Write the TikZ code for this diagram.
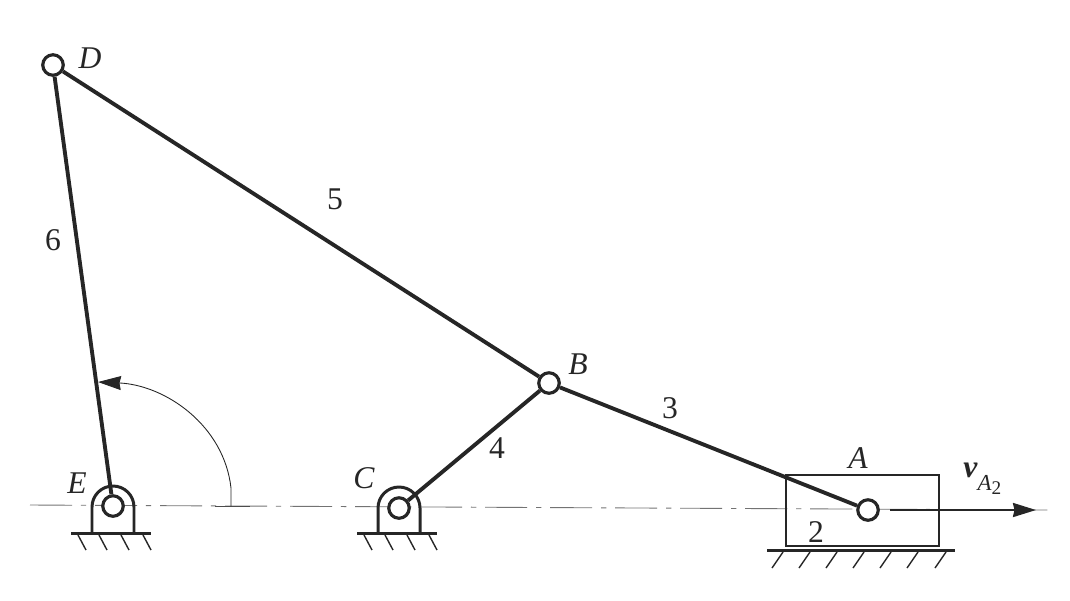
\documentclass[tikz,border=0pt]{standalone}
\usepackage{fontspec}
\setmainfont{Liberation Serif}
\usepackage{xcolor}
\usetikzlibrary{arrows.meta}
\definecolor{inkdark}{RGB}{38,38,38}

\begin{document}
\begin{tikzpicture}[
    x=0.02cm, y=-0.02cm,
    joint/.style={circle, draw=inkdark, fill=white, line width=1.8pt, inner sep=0pt, minimum size=0.41cm},
    link/.style={line width=2.2pt, inkdark},
    frame/.style={line width=1.7pt, inkdark},
    hatch/.style={line width=0.8pt, inkdark},
    centerline/.style={line width=0.5pt, black!55, dash pattern=on 24pt off 5pt on 3pt off 5pt},
    lbl/.style={font=\fontsize{18}{20}\selectfont, text=inkdark, inner sep=0pt},
    arr/.style={-{Stealth[length=4.6mm, width=2.8mm, inset=0.3mm]}, line width=1.3pt, inkdark}
]
\useasboundingbox (0,0) rectangle (1070,600);

% axis
\coordinate (axisL) at (30,505);
\coordinate (axisR) at (1048,510);
\draw[centerline] (axisL) -- (axisR);

% slider
\node[draw=inkdark, line width=1.6pt, minimum width=3.06cm, minimum height=1.42cm, inner sep=0pt] (slider) at (862.5,510.5) {};
\draw[frame] (767,550) -- (955,550);
\foreach \x in {783,810,837,864,891,918,946}
    \draw[hatch] (\x,552) -- (\x-11,568);

% supports
\foreach \x/\y in {113/507,399/508}{
    \draw[frame] (\x-21,533) -- (\x-21,\y) arc[start angle=180, end angle=360, radius=21] -- (\x+21,533);
    \draw[frame] (\x-42,533) -- (\x+38,533);
    \foreach \d in {-35,-14,8,30}
        \draw[hatch] (\x+\d,535) -- (\x+\d+8,550);
}

% joints
\node[joint] (D) at (53,65) {};
\node[joint] (E) at (113,506) {};
\node[joint] (C) at (399,508) {};
\node[joint] (B) at (549,383) {};
\node[joint] (A) at (868,510) {};

% links
\draw[link] (D) -- (E);
\draw[link] (D) -- (B);
\draw[link] (C) -- (B);
\draw[link] (B) -- (A);

% angle
\coordinate (tickL) at (215,506);
\coordinate (tickR) at (250,506);
\coordinate (arcS) at (231,506);
\coordinate (arcE) at (98,382);
\draw[line width=0.5pt, black!70] (tickL) -- (tickR);
\draw[line width=0.5pt, inkdark, -{Stealth[length=4.6mm, width=2.8mm, inset=0.3mm]}] (arcS) -- (231,488) .. controls (224,425) and (165,385) .. (arcE);

% velocity
\coordinate (velS) at (890,510);
\coordinate (velE) at (1036,510);
\draw[arr] (velS) -- (velE);

% labels
\node[lbl] (lblD) at (90,58) {\textit{D}};
\node[lbl] (lblE) at (77,483) {\textit{E}};
\node[lbl] (lblC) at (364,478) {\textit{C}};
\node[lbl] (lblB) at (578,364) {\textit{B}};
\node[lbl] (lblA) at (858,458) {\textit{A}};
\node[lbl] (lbl6) at (53,240) {6};
\node[lbl] (lbl5) at (335,199) {5};
\node[lbl] (lbl4) at (497,448) {4};
\node[lbl] (lbl3) at (670,408) {3};
\node[lbl] (lbl2) at (816,532) {2};
\node[lbl, anchor=west] (lblV) at (963,479) {\textbf{\textit{v}}\raisebox{-0.9ex}{\fontsize{13}{14}\selectfont\textit{A}\raisebox{-0.4ex}{\fontsize{11}{12}\selectfont 2}}};
\end{tikzpicture}
\end{document}
